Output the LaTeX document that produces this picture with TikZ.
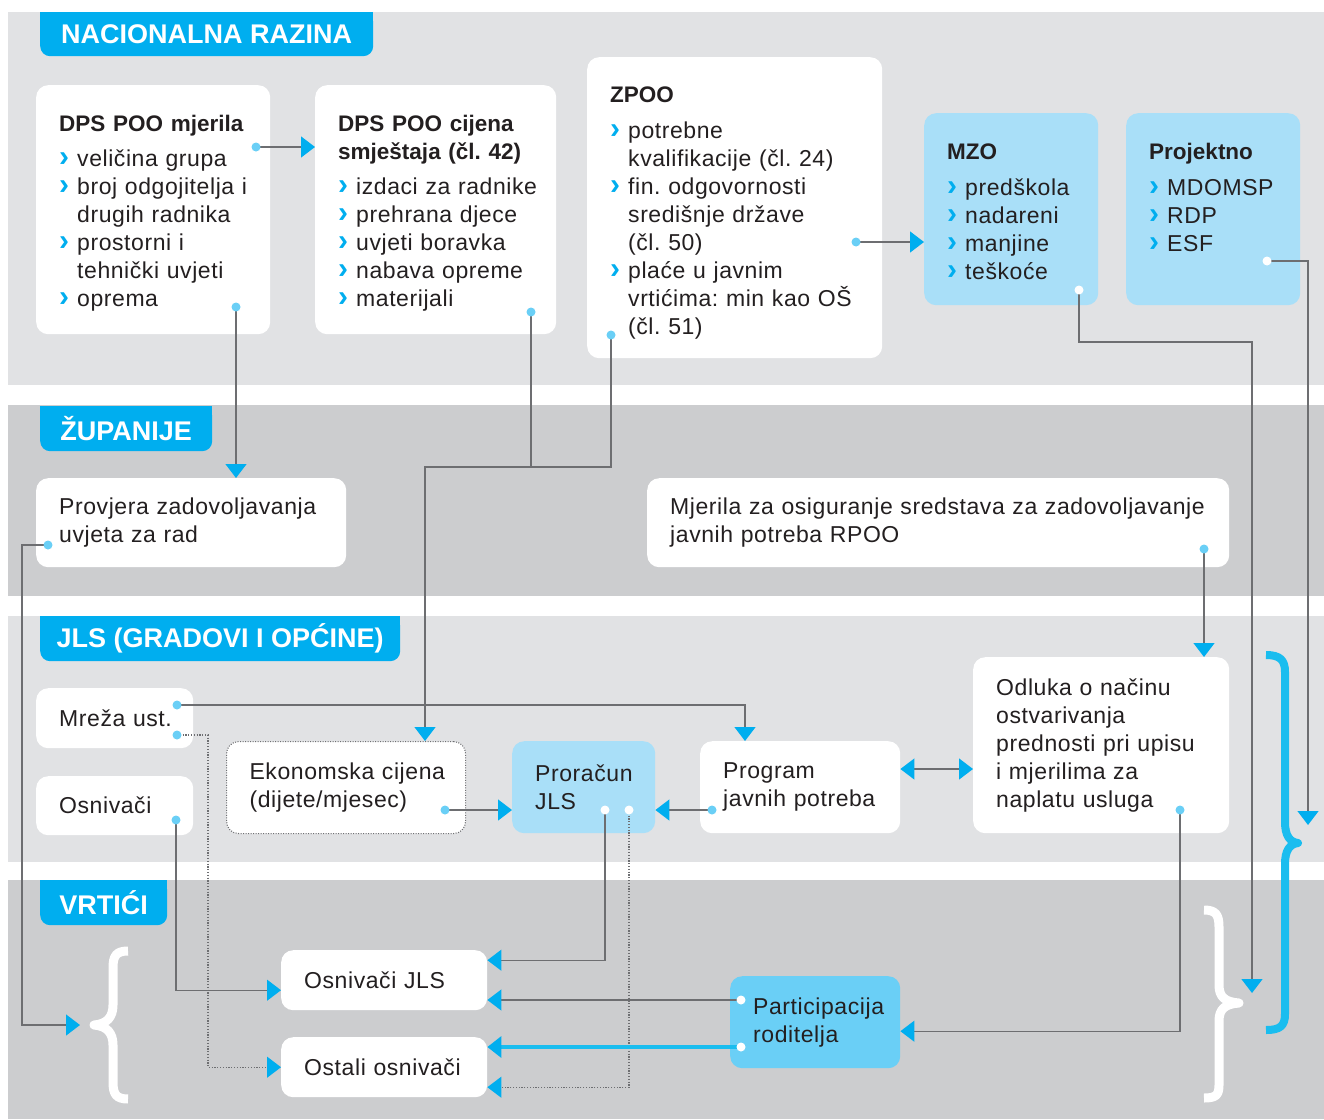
\documentclass[tikz,border=0pt]{standalone}
\usepackage{fontspec}
\setmainfont{Liberation Sans}[UprightFeatures={LetterSpace=2.5}]
\usetikzlibrary{arrows.meta,calc}
\definecolor{bandA}{HTML}{E1E2E4}
\definecolor{bandB}{HTML}{CCCDCF}
\definecolor{cblue}{HTML}{00AEEF}
\definecolor{lblue}{HTML}{A9DFF8}
\definecolor{mblue}{HTML}{6ACFF6}
\definecolor{dotc}{HTML}{6ACFF6}
\definecolor{lineg}{HTML}{6D6E71}
\definecolor{txt}{HTML}{231F20}
\definecolor{bblue}{HTML}{1ABDEF}
\newcommand\bl{\makebox[18pt][l]{\textcolor{cblue}{\bfseries\fontsize{30}{28}\selectfont ›}}}
\newcommand\ind{\hspace*{18pt}}
\newcommand\ttl[1]{\mbox{\bfseries\fontsize{22.5}{28}\selectfont #1}}
\begin{document}
\begin{tikzpicture}[x=1pt,y=-1pt,
  box/.style={fill=white, rounded corners=12pt, inner xsep=23pt, inner ysep=3pt, align=left,
    anchor=north west, font=\fontsize{23}{28}\selectfont\frenchspacing, text=txt},
  tab/.style={fill=cblue, rounded corners=10pt, anchor=north west, text=white,
    font=\bfseries\fontsize{27}{30}\selectfont, inner sep=0pt},
  con/.style={draw=lineg, line width=1.3pt},
  tip/.tip={Triangle[length=14pt,width=21pt,color=cblue]},
  arr/.style={con, -tip},
  darr/.style={draw=lineg, line width=1.2pt, dash pattern=on 1.2pt off 1.6pt, -tip},
  barr/.style={con, tip-tip},
  tharr/.style={draw=bblue, line width=3.5pt, -{Triangle[length=14pt,width=21pt,color=cblue]}},
  brace/.style={draw=white, line width=9pt, line join=round},
]
\useasboundingbox (0,0) rectangle (1324,1119);
\fill[white] (0,0) rectangle (1324,1119);
% bands
\fill[bandA] (8,12) rectangle (1324,385);
\fill[bandB] (8,405) rectangle (1324,596);
\fill[bandA] (8,616) rectangle (1324,862);
\fill[bandB] (8,880) rectangle (1324,1119);
% tabs
\fill[cblue] (40,12) rectangle (373,34);
\node[tab, minimum width=333pt, minimum height=44pt] (t1) at (40,12) {NACIONALNA RAZINA};
\fill[cblue] (40,406) rectangle (212,428);
\node[tab, minimum width=172pt, minimum height=45pt] (t2) at (40,406) {ŽUPANIJE};
\fill[cblue] (40,616) rectangle (400,638);
\node[tab, minimum width=360pt, minimum height=45pt] (t3) at (40,616) {JLS (GRADOVI I OPĆINE)};
\fill[cblue] (40,880) rectangle (167,902);
\node[tab, minimum width=127pt, minimum height=45pt] (t4) at (40,880) {VRTIĆI};

% boxes
\node[box, text width=188pt, minimum height=249pt] (m1) at (36,85)
  {\rule{0pt}{24pt}\ttl{DPS POO mjerila}\\[7pt]
   \bl veličina grupa\\
   \bl \mbox{broj odgojitelja i}\\
   \ind drugih radnika\\
   \bl prostorni i\\
   \ind tehnički uvjeti\\
   \bl oprema};
\node[box, text width=195pt, minimum height=249pt] (m2) at (315,85)
  {\rule{0pt}{24pt}\ttl{DPS POO cijena}\\
   \ttl{smještaja (čl. 42)}\\[7pt]
   \bl \mbox{izdaci za radnike}\\
   \bl prehrana djece\\
   \bl uvjeti boravka\\
   \bl nabava opreme\\
   \bl materijali};
\node[box, text width=249pt, minimum height=301pt] (zp) at (587,57)
  {\rule{0pt}{27pt}\ttl{ZPOO}\\[8pt]
   \bl potrebne\\
   \ind \mbox{kvalifikacije (čl. 24)}\\
   \bl fin. odgovornosti\\
   \ind središnje države\\
   \ind (čl. 50)\\
   \bl plaće u javnim\\
   \ind \mbox{vrtićima: min kao OŠ}\\
   \ind (čl. 51)};
\node[box, fill=lblue, text width=128pt, minimum height=192pt] (mzo) at (924,113)
  {\rule{0pt}{20pt}\ttl{MZO}\\[8pt]
   \bl \mbox{predškola}\\
   \bl nadareni\\
   \bl manjine\\
   \bl teškoće};
\node[box, fill=lblue, text width=128pt, minimum height=192pt] (proj) at (1126,113)
  {\rule{0pt}{20pt}\ttl{Projektno}\\[8pt]
   \bl \mbox{MDOMSP}\\
   \bl RDP\\
   \bl ESF\\
   \mbox{}};
\node[box, text width=264pt, minimum height=89pt] (prov) at (36,478)
  {\mbox{Provjera zadovoljavanja}\\ uvjeta za rad};
\node[box, text width=536pt, minimum height=89pt] (mjer) at (647,478)
  {\mbox{Mjerila za osiguranje sredstava za zadovoljavanje}\\ javnih potreba RPOO};
\node[box, text width=111pt, minimum height=60pt] (mreza) at (36,688) {\mbox{Mreža ust.}};
\node[box, text width=111pt, minimum height=59pt] (osn) at (36,776) {Osnivači};
\node[box, draw=lineg, line width=1.1pt, dash pattern=on 1pt off 1.5pt, text width=193pt, minimum height=92pt] (eko) at (226,741)
  {\mbox{Ekonomska cijena}\\ \mbox{(dijete/mjesec)}};
\node[box, fill=lblue, text width=97pt, minimum height=92pt] (pror) at (512,741) {\mbox{Proračun}\\ JLS};
\node[box, text width=154pt, minimum height=92pt] (prog) at (700,741) {Program\\ \mbox{javnih potreba}};
\node[box, text width=210pt, minimum height=176pt] (odl) at (973,657)
  {Odluka o načinu\\ ostvarivanja\\ \mbox{prednosti pri upisu}\\ i mjerilima za\\ naplatu usluga};
\node[box, text width=160pt, minimum height=60pt] (ojls) at (281,950) {\mbox{Osnivači JLS}};
\node[box, text width=160pt, minimum height=60pt] (ost) at (281,1037) {\mbox{Ostali osnivači}};
\node[box, fill=mblue, text width=124pt, minimum height=92pt] (part) at (730,976) {\mbox{Participacija}\\ roditelja};

% braces
\draw[brace] (128,951) .. controls (116,951) and (113,956) .. (113,968) -- (113,1005)
  .. controls (113,1017) and (107,1024) .. (94,1025) .. controls (107,1026) and (113,1033) .. (113,1045)
  -- (113,1082) .. controls (113,1094) and (116,1099) .. (128,1099);
\draw[brace] (1204,910) .. controls (1216,910) and (1219,915) .. (1219,927) -- (1219,985)
  .. controls (1219,997) and (1225,1002) .. (1239,1003) .. controls (1225,1004) and (1219,1009) .. (1219,1021)
  -- (1219,1085) .. controls (1219,1095) and (1216,1098) .. (1204,1098);
\draw[draw=bblue, line width=8pt, line join=round] (1266,655) .. controls (1280,655) and (1285,660) .. (1285,672) -- (1285,822)
  .. controls (1285,836) and (1290,842) .. (1298,843) .. controls (1290,844) and (1285,850) .. (1285,864)
  -- (1285,1014) .. controls (1285,1026) and (1280,1030) .. (1266,1030);

% dot coordinates
\coordinate (d1) at (256,147);
\coordinate (d2) at (236,307);
\coordinate (d3) at (531,312);
\coordinate (d4) at (611,335);
\coordinate (d5) at (856,242);
\coordinate (d6) at (1079,290);
\coordinate (d7) at (1267,261);
\coordinate (d8) at (48,545);
\coordinate (d9) at (1204,549);
\coordinate (d10) at (177,705);
\coordinate (d11) at (177,735);
\coordinate (d12) at (176,820);
\coordinate (d13) at (445,810);
\coordinate (d14) at (712,810);
\coordinate (d15) at (605,810);
\coordinate (d16) at (629,810);
\coordinate (d17) at (741,1000);
\coordinate (d18) at (741,1047);
\coordinate (d19) at (1180,810);
% bends and free ends
\coordinate (j1) at (611,467);
\coordinate (j2) at (425,467);
\coordinate (k6) at (1252,342);
\coordinate (e6) at (1252,993);
\coordinate (e7) at (1308,825);
\coordinate (k8) at (22,1025);
\coordinate (e8) at (80,1025);
\coordinate (k11) at (208,735);

% connectors
\draw[arr] (d1) -- (m2.west |- d1);
\draw[arr] (d2) -- (prov.north -| d2);
\draw[con] (d3) -- (d3 |- j1);
\draw[arr] (d4) -- (j1) -- (j2) -- (eko.north -| j2);
\draw[arr] (d5) -- (mzo.west |- d5);
\draw[arr] (d6) |- (k6) -- (e6);
\draw[arr] (d7) -| (e7);
\draw[arr] (d8) -| (k8) -- (e8);
\draw[arr] (d9) -- (odl.north -| d9);
\draw[arr] (d10) -| ($(prog.north west)+(45,0)$);
\draw[darr] (d11) -- (k11) |- (ost.west);
\draw[arr] (d12) |- ($(ojls.west)+(0,10)$);
\draw[arr] (d13) -- (pror.west |- d13);
\draw[arr] (d14) -- (pror.east |- d14);
\draw[barr] ($(prog.north east)+(0,28)$) -- ($(odl.west |- prog.north east)+(0,28)$);
\draw[arr] (d15) |- ($(ojls.east)+(0,-20)$);
\draw[darr] (d16) |- ($(ost.east)+(0,20)$);
\draw[arr] (d17) -- (ojls.east |- d17);
\draw[tharr] (d18) -- (ost.east |- d18);
\draw[arr] (d19) |- ($(part.east)+(0,9)$);

% dots
\foreach \d in {d1,d2,d3,d4,d5,d8,d9,d10,d11,d12,d13,d14,d19}
  \fill[dotc] (\d) circle (4.5);
\foreach \d in {d6,d7,d15,d16,d17,d18}
  \fill[white] (\d) circle (4.5);
\end{tikzpicture}
\end{document}
